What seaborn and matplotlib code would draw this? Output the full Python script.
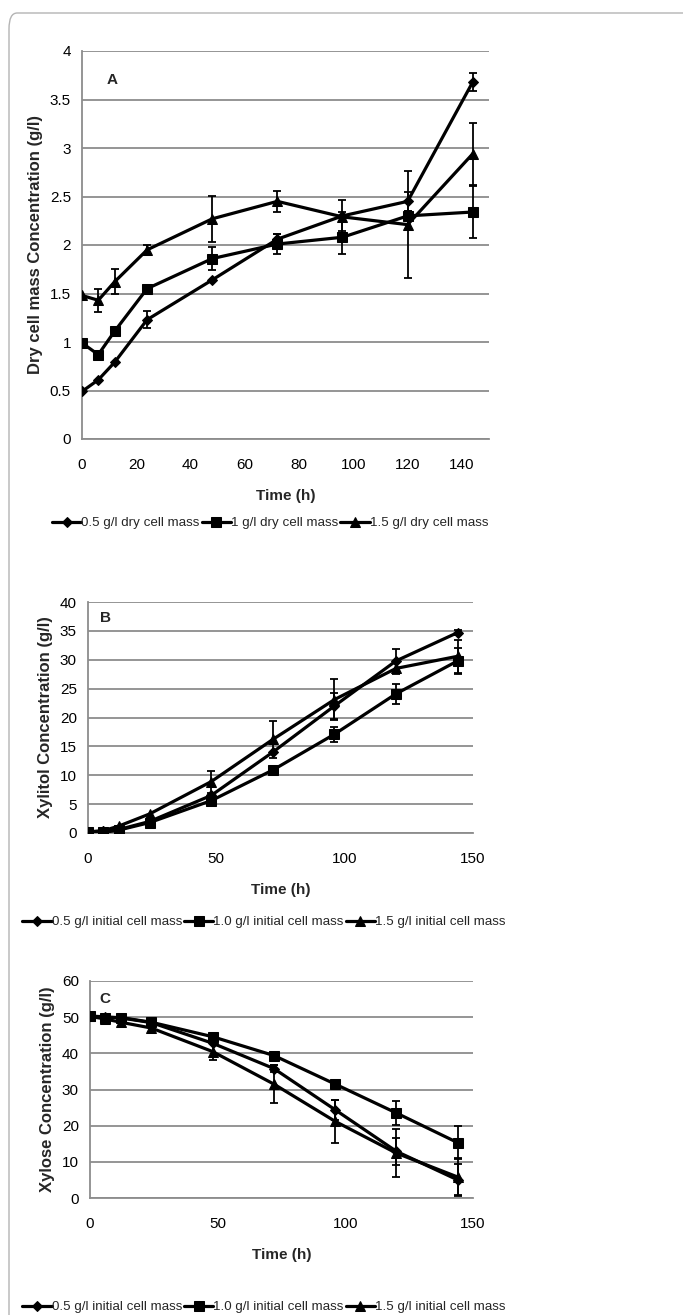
import numpy as np
import pandas as pd
import matplotlib
matplotlib.use("Agg")
import matplotlib.pyplot as plt
import seaborn as sns
from matplotlib.patches import FancyBboxPatch

# ---------------- data ----------------
time_h = [0, 6, 12, 24, 48, 72, 96, 120, 144]

# Panel A: dry cell mass (g/l)
a_labels = ["0.5 g/l dry cell mass", "1 g/l dry cell mass", "1.5 g/l dry cell mass"]
a_05 = [0.49, 0.61, 0.79, 1.23, 1.64, 2.06, 2.30, 2.45, 3.68]
a_10 = [0.99, 0.87, 1.11, 1.55, 1.86, 2.01, 2.08, 2.30, 2.34]
a_15 = [1.48, 1.43, 1.62, 1.95, 2.27, 2.45, 2.29, 2.21, 2.94]
a_05_err = [0, 0, 0, 0.09, 0, 0.05, 0.16, 0.10, 0.09]
a_10_err = [0, 0, 0, 0, 0.12, 0.10, 0.17, 0.05, 0.27]
a_15_err = [0, 0.12, 0.13, 0.05, 0.24, 0.11, 0.05, 0.55, 0.32]

# Panel B: xylitol (g/l)
bc_labels = ["0.5 g/l initial cell mass", "1.0 g/l initial cell mass", "1.5 g/l initial cell mass"]
b_05 = [0.2, 0.3, 0.6, 2.0, 6.5, 14.0, 22.0, 29.8, 34.7]
b_10 = [0.1, 0.1, 0.5, 1.8, 5.6, 10.9, 17.1, 24.1, 29.8]
b_15 = [0.2, 0.4, 1.2, 3.3, 8.9, 16.2, 23.1, 28.5, 30.6]
b_05_err = [0, 0, 0, 0, 0, 0, 2.2, 2.0, 0.5]
b_10_err = [0, 0, 0, 0, 0, 0, 1.3, 1.7, 2.2]
b_15_err = [0, 0, 0, 0, 1.9, 3.2, 3.5, 1.0, 2.9]

# Panel C: xylose (g/l)
c_05 = [50.3, 50.1, 49.8, 48.5, 42.8, 35.8, 24.4, 12.9, 5.0]
c_10 = [50.3, 49.9, 49.9, 48.6, 44.6, 39.4, 31.5, 23.5, 15.3]
c_15 = [50.2, 49.5, 48.6, 47.0, 40.5, 31.5, 21.2, 12.4, 5.8]
c_05_err = [0, 0, 0, 0, 0, 1.0, 2.8, 3.7, 4.3]
c_10_err = [0, 0, 0, 0, 0, 0, 1.2, 3.4, 4.5]
c_15_err = [0, 0, 0, 0, 2.4, 5.2, 6.0, 6.6, 5.3]

markers = ["D", "s", "^"]
msizes = [5.0, 6.5, 7.0]

# ---------------- style ----------------
sns.set_theme(style="white")
plt.rcParams["font.family"] = ["Liberation Sans", "DejaVu Sans"]

W, H = 683, 1315
fig = plt.figure(figsize=(W / 100, H / 100), dpi=100)

# outer frame (top and left edges visible)
frame = FancyBboxPatch((9 / W, -0.2), 2.0, 1 - 13 / H + 0.2,
                       boxstyle="round,pad=0,rounding_size=0.012",
                       transform=fig.transFigure, fill=False,
                       edgecolor="#b4b4b4", linewidth=1.0)
fig.patches.append(frame)

GRID = "#8c8c8c"
LEG_FS = 9.6


def px_axes(left, right, top, bottom):
    return fig.add_axes([left / W, 1 - bottom / H, (right - left) / W, (bottom - top) / H])


def draw_panel(ax, series, errs, labels, ylim, ystep, xticks, ylabel, letter, letter_xy):
    for vals, err, mk, ms, lab in zip(series, errs, markers, msizes, labels):
        df = pd.DataFrame({"t": time_h, "v": vals})
        sns.lineplot(data=df, x="t", y="v", ax=ax, color="black", linewidth=2.3,
                     marker=mk, markersize=ms, markeredgecolor="black",
                     markerfacecolor="black", label=lab, zorder=3)
        e = np.array(err, dtype=float)
        m = e > 0
        ax.errorbar(np.array(time_h)[m], np.array(vals)[m], yerr=e[m], fmt="none",
                    ecolor="black", elinewidth=1.3, capsize=2.6, capthick=1.3, zorder=4)
    ax.set_xlim(0, 150)
    ax.set_ylim(*ylim)
    ax.set_xticks(xticks)
    yt = np.arange(ylim[0], ylim[1] + ystep / 2, ystep)
    ax.set_yticks(yt)
    ax.set_yticklabels([("%g" % v) for v in yt])
    ax.grid(False)
    ax.yaxis.grid(True, color=GRID, linewidth=1.3)
    ax.set_axisbelow(True)
    for s in ["top", "right"]:
        ax.spines[s].set_visible(False)
    for s in ["left", "bottom"]:
        ax.spines[s].set_color(GRID)
        ax.spines[s].set_linewidth(1.3)
    ax.tick_params(axis="both", which="both", direction="out", length=4, width=1.2,
                   color=GRID, labelsize=11, labelcolor="black", pad=4)
    ax.tick_params(axis="x", pad=10)
    ax.set_xlabel("Time (h)", fontsize=11, fontweight="bold", labelpad=12)
    ax.set_ylabel(ylabel, fontsize=12, fontweight="bold", labelpad=5)
    ax.text(letter_xy[0], letter_xy[1], letter, transform=ax.transData,
            fontsize=11, fontweight="bold", ha="center", va="center")
    h, l = ax.get_legend_handles_labels()
    ax.get_legend().remove()
    return h[:3], l[:3]


def add_legend(handles, labels, cx, cy):
    fig.legend(handles, labels, loc="center", bbox_to_anchor=(cx / W, 1 - cy / H), ncol=3,
               frameon=False, fontsize=LEG_FS, handlelength=2.2, handletextpad=0.0,
               columnspacing=0.15, borderpad=0)


# Panel A
axA = px_axes(82, 489, 51, 439)
hA, lA = draw_panel(axA, [a_05, a_10, a_15], [a_05_err, a_10_err, a_15_err], a_labels,
                    (0, 4), 0.5, [0, 20, 40, 60, 80, 100, 120, 140],
                    "Dry cell mass Concentration (g/l)", "A", (11, 3.7))
add_legend(hA, lA, 270, 523)

# Panel B
axB = px_axes(88, 473, 602, 833)
hB, lB = draw_panel(axB, [b_05, b_10, b_15], [b_05_err, b_10_err, b_15_err], bc_labels,
                    (0, 40), 5, [0, 50, 100, 150],
                    "Xylitol Concentration (g/l)", "B", (7, 37.3))
add_legend(hB, lB, 264, 922)

# Panel C
axC = px_axes(90, 473, 981, 1198)
hC, lC = draw_panel(axC, [c_05, c_10, c_15], [c_05_err, c_10_err, c_15_err], bc_labels,
                    (0, 60), 10, [0, 50, 100, 150],
                    "Xylose Concentration (g/l)", "C", (6, 55))
add_legend(hC, lC, 264, 1307)

fig.savefig("out.png", dpi=100, facecolor="white")
